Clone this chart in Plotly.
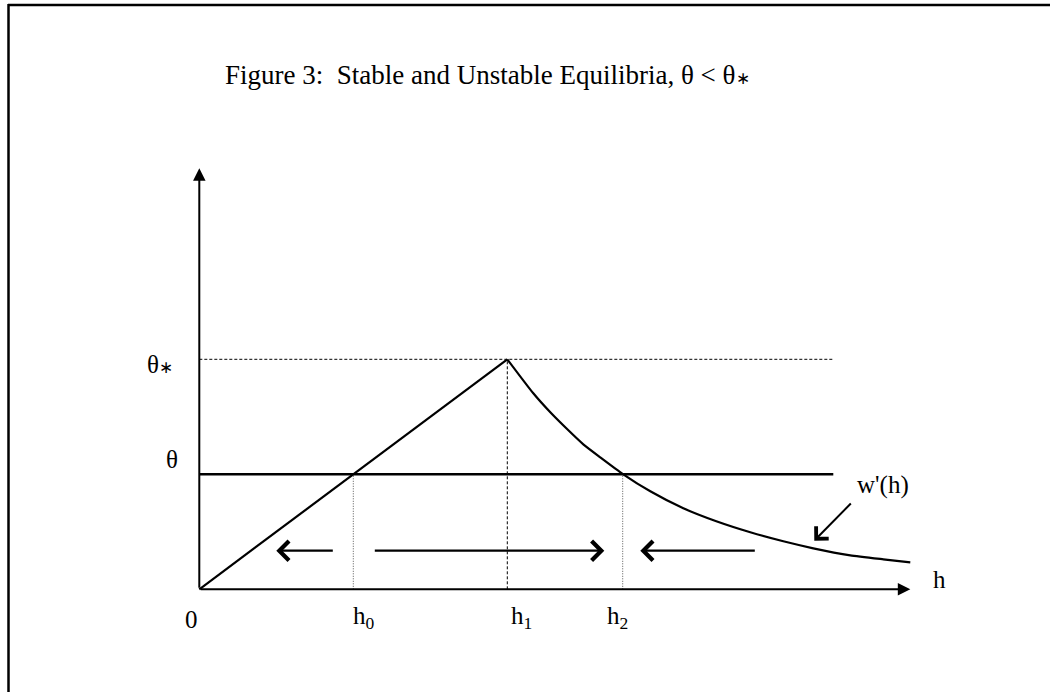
import plotly.graph_objects as go

# values in chart units (origin at 0,0)
h0, h1, h2 = 1.54, 3.08, 4.234
theta, theta_star = 1.15, 2.30
x_axis_end, y_axis_end = 7.11, 4.21
line_end = 6.34

rise_x = [0, h1]
rise_y = [0, theta_star]
curve_x = [3.08, 3.34, 3.51, 3.67, 3.84, 4.01, 4.24, 4.51, 4.84, 5.17, 5.51, 5.84, 6.14, 6.51, 6.84, 7.11]
curve_y = [2.30, 1.96, 1.77, 1.61, 1.45, 1.32, 1.15, 0.98, 0.81, 0.68, 0.57, 0.48, 0.41, 0.34, 0.30, 0.27]

arrow_y = 0.386
# (tail, tip) of the horizontal arrows
flow_arrows = [(1.35, 0.77), (1.74, 4.05), (5.57, 4.41)]
w_arrow_tail = (6.53, 0.873)
w_arrow_tip = (6.15, 0.486)

star = "<span style='font-size:17px'>\u2217</span>"
title = "Figure 3:  Stable and Unstable Equilibria, θ < θ" + star
FONT = "Liberation Serif"

fig = go.Figure()
fig.add_trace(go.Scatter(x=rise_x, y=rise_y, mode="lines", line=dict(color="black", width=2.2)))
fig.add_trace(go.Scatter(x=curve_x, y=curve_y, mode="lines",
                         line=dict(color="black", width=2.2, shape="spline", smoothing=0.5)))
fig.add_trace(go.Scatter(x=[0, line_end], y=[theta, theta], mode="lines", line=dict(color="black", width=2.6)))
fig.add_trace(go.Scatter(x=[0, line_end], y=[theta_star, theta_star], mode="lines",
                         line=dict(color="black", width=1, dash="3px,2px")))
fig.add_trace(go.Scatter(x=[h1, h1], y=[0, theta_star], mode="lines",
                         line=dict(color="black", width=1, dash="3px,2px")))
for hx in (h0, h2):
    fig.add_trace(go.Scatter(x=[hx, hx], y=[0, theta], mode="lines",
                             line=dict(color="#555555", width=1, dash="1px,1.5px")))

# axes with filled arrowheads
for tip in [(0, y_axis_end), (x_axis_end, 0)]:
    fig.add_annotation(x=tip[0], y=tip[1], ax=0, ay=0, xref="x", yref="y", axref="x", ayref="y",
                       text="", showarrow=True, arrowhead=2, arrowsize=1.25, arrowwidth=2,
                       arrowcolor="black", standoff=0)

# open arrows
for tail, tip in flow_arrows:
    fig.add_annotation(x=tip, y=arrow_y, ax=tail, ay=arrow_y, xref="x", yref="y", axref="x", ayref="y",
                       text="", showarrow=True, arrowhead=4, arrowsize=1.7, arrowwidth=2.2,
                       arrowcolor="black", standoff=0)
fig.add_annotation(x=w_arrow_tip[0], y=w_arrow_tip[1], ax=w_arrow_tail[0], ay=w_arrow_tail[1],
                   xref="x", yref="y", axref="x", ayref="y", text="", showarrow=True,
                   arrowhead=4, arrowsize=1.7, arrowwidth=2, arrowcolor="black", standoff=0)

labels = [
    ("θ" + star, -0.393, 2.248),
    ("θ", -0.273, 1.298),
    ("0", -0.083, -0.30),
    ("h<sub>0</sub>", 1.65, -0.28),
    ("h<sub>1</sub>", 3.22, -0.28),
    ("h<sub>2</sub>", 4.18, -0.28),
    ("h", 7.40, 0.10),
    ("w'(h)", 6.84, 1.04),
]
for txt, lx, ly in labels:
    fig.add_annotation(x=lx, y=ly, xref="x", yref="y", text=txt, showarrow=False,
                       font=dict(family=FONT, size=25, color="black"))

fig.add_annotation(x=0.237, y=5.14, xref="x", yref="y", xanchor="left", text=title,
                   showarrow=False, font=dict(family=FONT, size=27, color="black"))

# page frame (top and left edges)
fig.add_shape(type="line", xref="paper", yref="paper", x0=8 / 1050, x1=1.01, y0=1 - 5 / 692, y1=1 - 5 / 692,
              line=dict(color="black", width=2.5))
fig.add_shape(type="line", xref="paper", yref="paper", x0=8.5 / 1050, x1=8.5 / 1050, y0=1 - 4 / 692, y1=-0.01,
              line=dict(color="black", width=2.5))

fig.update_layout(width=1050, height=692, margin=dict(l=0, r=0, t=0, b=0),
                  showlegend=False, plot_bgcolor="white", paper_bgcolor="white",
                  xaxis=dict(range=[-1.993, 8.507], visible=False, fixedrange=True),
                  yaxis=dict(range=[-1.027, 5.893], visible=False, fixedrange=True))
fig.write_html("out.html", config={"displayModeBar": False},
               post_script="document.body.style.margin='0';document.body.style.overflow='hidden';")
